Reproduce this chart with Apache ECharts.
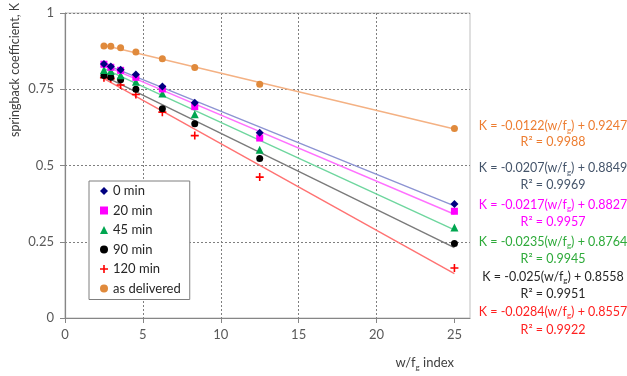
<!DOCTYPE html>
<html>
<head>
<meta charset="utf-8">
<script src="https://cdn.jsdelivr.net/npm/echarts@6/dist/echarts.min.js"></script>
<style>html,body{margin:0;padding:0;background:#fff;}#c{width:627px;height:376px;}</style>
</head>
<body>
<div id="c"></div>
<script>
// ---- data ----
const xIdx = [2.5, 2.94, 3.57, 4.55, 6.25, 8.33, 12.5, 25];
const seriesNames = ['0 min', '20 min', '45 min', '90 min', '120 min', 'as delivered'];
const k0   = [0.833, 0.825, 0.814, 0.798, 0.759, 0.706, 0.607, 0.374];
const k20  = [0.832, 0.822, 0.812, 0.789, 0.751, 0.693, 0.590, 0.350];
const k45  = [0.813, 0.810, 0.796, 0.775, 0.736, 0.668, 0.552, 0.297];
const k90  = [0.795, 0.789, 0.781, 0.750, 0.686, 0.637, 0.523, 0.244];
const k120 = [0.788, 0.785, 0.764, 0.733, 0.675, 0.598, 0.462, 0.164];
const kDel = [0.892, 0.891, 0.886, 0.872, 0.850, 0.821, 0.766, 0.621];
// trendline coefficients (from chart labels), order as seriesNames
const slopes = ['-0.0207', '-0.0217', '-0.0235', '-0.025', '-0.0284', '-0.0122'];
const intercepts = ['0.8849', '0.8827', '0.8764', '0.8558', '0.8557', '0.9247'];
const r2 = ['0.9969', '0.9957', '0.9945', '0.9951', '0.9922', '0.9988'];
const xTicks = [0, 5, 10, 15, 20, 25];

const allK = [k0, k20, k45, k90, k120, kDel];
const markerColors = ['#000080', '#FF00FF', '#00A650', '#000000', '#FF0000', '#E08A3C'];
const lineColors = ['#8C93D2', '#FF70FF', '#6ED69E', '#7A7A7A', '#FF7272', '#F4B183'];
const textColors = ['#44546A', '#FF00FF', '#2EAA3A', '#262626', '#FF2020', '#ED7D31'];
const symbols = ['diamond', 'rect', 'triangle', 'circle',
  'path://M4,0h2v4h4v2h-4v4h-2v-4h-4v-2h4z', 'circle'];
const symSizes = [8, 7, 8, 7, 8, 7];
const FONT = 'Lato';

const series = [];
allK.forEach((arr, i) => {
  const m = parseFloat(slopes[i]), b = parseFloat(intercepts[i]);
  const x0 = xIdx[0], x1 = xIdx[xIdx.length - 1];
  series.push({
    type: 'line', name: seriesNames[i] + ' trend', silent: true,
    data: [[x0, m * x0 + b], [x1, m * x1 + b]],
    showSymbol: false, symbol: 'none',
    lineStyle: { color: lineColors[i], width: 1.4 }, z: 2
  });
});
allK.forEach((arr, i) => {
  series.push({
    type: 'scatter', name: seriesNames[i],
    data: xIdx.map((x, j) => [x, arr[j]]),
    symbol: symbols[i], symbolSize: symSizes[i],
    itemStyle: { color: markerColors[i], opacity: 1 }, z: 3 + (5 - i)
  });
});

function subRich(color, size) {
  return {
    a: { fontFamily: FONT, fontSize: size, fill: color, lineHeight: 16, verticalAlign: 'middle' },
    s: { fontFamily: FONT, fontSize: 8, fill: color, lineHeight: 9, verticalAlign: 'bottom' }
  };
}

// equation labels on the right; order as drawn top-to-bottom
const eqOrder = [5, 0, 1, 2, 3, 4];
const eqY = [[126, 142], [168, 185], [204.5, 222], [241.5, 258.5], [276.5, 293.5], [311.5, 329.5]];
const graphics = [];
eqOrder.forEach((si, k) => {
  const c = textColors[si];
  graphics.push({
    type: 'text', x: 553, y: eqY[k][0],
    style: {
      text: '{a|K = ' + slopes[si] + '(w/f}{s|g}{a|) + ' + intercepts[si] + '}',
      align: 'center', verticalAlign: 'middle',
      rich: subRich(c, 12.5)
    }
  });
  graphics.push({
    type: 'text', x: 553, y: eqY[k][1],
    style: { text: 'R² = ' + r2[si], align: 'center', verticalAlign: 'middle',
      font: '12.5px ' + FONT, fill: c }
  });
});
// axis titles
graphics.push({
  type: 'text', x: 15, y: 70, rotation: Math.PI / 2,
  style: { text: 'springback coefficient, K', align: 'center', verticalAlign: 'middle',
    font: '12.5px ' + FONT, fill: '#404040' }
});
graphics.push({
  type: 'text', x: 454, y: 363,
  style: {
    text: '{a|w/f}{s|g}{a| index}', align: 'right', verticalAlign: 'middle',
    rich: subRich('#404040', 13)
  }
});

const chart = echarts.init(document.getElementById('c'), null, { renderer: 'canvas' });
chart.setOption({
  animation: false,
  backgroundColor: '#ffffff',
  grid: { left: 65, right: 157, top: 13, bottom: 58, show: true, borderColor: '#BFBFBF', borderWidth: 1, backgroundColor: 'transparent' },
  xAxis: {
    type: 'value', min: 0, max: 26, interval: 5,
    axisLine: { show: true, onZero: false, lineStyle: { color: '#868686', width: 1.2 } },
    axisTick: { show: true, length: 5, customValues: xTicks, lineStyle: { color: '#868686' } },
    axisLabel: { customValues: xTicks, color: '#595959', fontFamily: FONT, fontSize: 13, margin: 10 },
    splitLine: { show: true, showMinLine: false, showMaxLine: false, lineStyle: { color: '#7F7F7F', type: [2, 2], width: 1 } }
  },
  yAxis: {
    type: 'value', min: 0, max: 1, interval: 0.25,
    axisLine: { show: true, onZero: false, lineStyle: { color: '#868686', width: 1.2 } },
    axisTick: { show: true, length: 5, lineStyle: { color: '#868686' } },
    axisLabel: { color: '#595959', fontFamily: FONT, fontSize: 13, margin: 11 },
    splitLine: { show: true, showMinLine: false, lineStyle: { color: '#7F7F7F', type: [2, 2], width: 1 } }
  },
  legend: {
    data: seriesNames, orient: 'vertical', left: 89, top: 181,
    padding: [3, 9, 4, 11], itemGap: 5.5, itemWidth: 8, itemHeight: 8, itemStyle: {},
    borderColor: '#7F7F7F', borderWidth: 1, backgroundColor: '#ffffff',
    textStyle: { fontFamily: FONT, fontSize: 13, color: '#262626', lineHeight: 14 },
    selectedMode: false
  },
  series: series,
  graphic: graphics
});
</script>
</body>
</html>
